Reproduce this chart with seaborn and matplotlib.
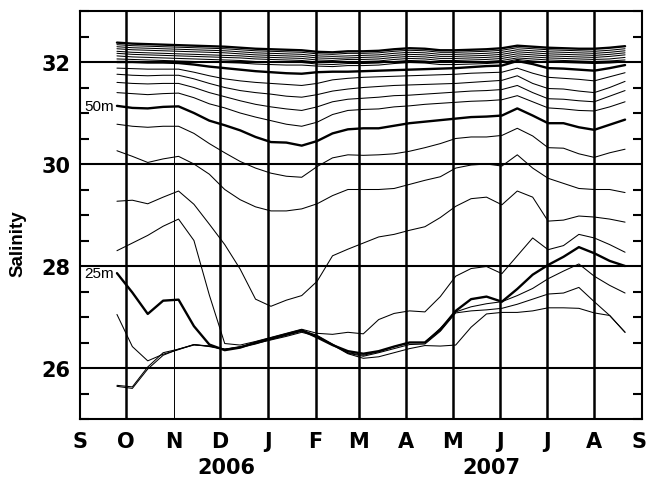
import pandas as pd
import matplotlib
matplotlib.use("Agg")
import matplotlib.pyplot as plt
from matplotlib.ticker import MultipleLocator, FixedLocator, NullLocator
import matplotlib.transforms as mtransforms
import matplotlib.dates as mdates
import seaborn as sns

# Sampling dates of the mooring record (every 10 days)
dates = pd.date_range("2006-09-25", periods=34, freq="10D")

# Salinity at each instrument depth
sal_10m = [25.64, 25.60, 25.98, 26.25, 26.37, 26.45, 26.43, 26.37, 26.42, 26.48, 26.55, 26.62,
           26.70, 26.62, 26.45, 26.28, 26.19, 26.22, 26.30, 26.38, 26.44, 26.43, 26.45, 26.80,
           27.06, 27.09, 27.09, 27.12, 27.18, 27.18, 27.17, 27.08, 27.03, 26.70]
sal_15m = [25.66, 25.63, 26.02, 26.30, 26.37, 26.46, 26.42, 26.36, 26.40, 26.47, 26.56, 26.64,
           26.72, 26.63, 26.46, 26.29, 26.23, 26.30, 26.38, 26.46, 26.47, 26.72, 27.08, 27.12,
           27.14, 27.17, 27.25, 27.35, 27.45, 27.47, 27.58, 27.30, 27.03, 26.70]
sal_20m = [27.05, 26.42, 26.14, 26.27, 26.36, 26.46, 26.43, 26.37, 26.41, 26.50, 26.58, 26.66,
           26.74, 26.64, 26.47, 26.30, 26.25, 26.32, 26.42, 26.50, 26.50, 26.78, 27.10, 27.20,
           27.26, 27.30, 27.42, 27.56, 27.75, 27.90, 28.04, 27.80, 27.62, 27.47]
sal_25m = [27.86, 27.48, 27.06, 27.32, 27.34, 26.82, 26.46, 26.35, 26.40, 26.50, 26.58, 26.66,
           26.74, 26.60, 26.45, 26.33, 26.28, 26.33, 26.42, 26.50, 26.50, 26.75, 27.12, 27.35,
           27.40, 27.30, 27.55, 27.83, 28.02, 28.18, 28.37, 28.25, 28.10, 28.00]
sal_30m = [28.30, 28.45, 28.60, 28.78, 28.92, 28.50, 27.43, 26.48, 26.45, 26.52, 26.60, 26.68,
           26.76, 26.68, 26.66, 26.70, 26.67, 26.95, 27.07, 27.12, 27.10, 27.40, 27.80, 27.95,
           27.99, 27.85, 28.20, 28.55, 28.32, 28.40, 28.62, 28.55, 28.42, 28.27]
sal_35m = [29.27, 29.29, 29.22, 29.35, 29.47, 29.21, 28.82, 28.42, 27.94, 27.35, 27.21, 27.33,
           27.42, 27.70, 28.20, 28.33, 28.45, 28.57, 28.62, 28.70, 28.77, 28.95, 29.17, 29.32,
           29.35, 29.20, 29.47, 29.35, 28.88, 28.90, 28.98, 28.96, 28.92, 28.86]
sal_40m = [30.26, 30.15, 30.03, 30.10, 30.15, 30.00, 29.80, 29.50, 29.30, 29.16, 29.08, 29.08,
           29.12, 29.22, 29.38, 29.50, 29.50, 29.50, 29.52, 29.60, 29.68, 29.75, 29.92, 29.98,
           30.00, 29.96, 30.18, 29.92, 29.72, 29.62, 29.52, 29.50, 29.50, 29.44]
sal_45m = [30.78, 30.74, 30.72, 30.74, 30.74, 30.60, 30.40, 30.22, 30.05, 29.92, 29.82, 29.76,
           29.74, 29.95, 30.12, 30.18, 30.17, 30.18, 30.20, 30.25, 30.32, 30.40, 30.50, 30.53,
           30.53, 30.56, 30.70, 30.55, 30.32, 30.31, 30.20, 30.13, 30.22, 30.29]
sal_50m = [31.14, 31.10, 31.09, 31.12, 31.13, 31.00, 30.85, 30.76, 30.66, 30.53, 30.43, 30.42,
           30.36, 30.45, 30.60, 30.68, 30.70, 30.70, 30.75, 30.80, 30.83, 30.86, 30.89, 30.92,
           30.93, 30.95, 31.09, 30.95, 30.80, 30.80, 30.72, 30.67, 30.77, 30.87]
sal_55m = [31.40, 31.38, 31.36, 31.38, 31.39, 31.30, 31.18, 31.10, 31.00, 30.92, 30.85, 30.78,
           30.74, 30.82, 30.97, 31.05, 31.07, 31.08, 31.12, 31.14, 31.17, 31.19, 31.21, 31.23,
           31.24, 31.26, 31.34, 31.22, 31.10, 31.08, 31.05, 31.04, 31.12, 31.22]
sal_60m = [31.60, 31.58, 31.57, 31.58, 31.58, 31.50, 31.40, 31.32, 31.24, 31.17, 31.12, 31.08,
           31.05, 31.12, 31.22, 31.27, 31.29, 31.31, 31.34, 31.35, 31.37, 31.39, 31.41, 31.43,
           31.44, 31.46, 31.54, 31.40, 31.28, 31.27, 31.24, 31.22, 31.33, 31.44]
sal_65m = [31.76, 31.74, 31.73, 31.74, 31.74, 31.67, 31.58, 31.50, 31.44, 31.40, 31.37, 31.33,
           31.31, 31.36, 31.43, 31.47, 31.50, 31.52, 31.54, 31.55, 31.56, 31.57, 31.58, 31.60,
           31.62, 31.64, 31.73, 31.58, 31.48, 31.47, 31.43, 31.40, 31.50, 31.62]
sal_70m = [31.88, 31.87, 31.86, 31.86, 31.86, 31.80, 31.73, 31.67, 31.63, 31.60, 31.58, 31.56,
           31.54, 31.58, 31.65, 31.68, 31.70, 31.71, 31.72, 31.73, 31.74, 31.75, 31.76, 31.78,
           31.79, 31.80, 31.88, 31.78, 31.70, 31.68, 31.66, 31.63, 31.71, 31.79]
sal_75m = [32.00, 32.00, 31.99, 31.99, 31.98, 31.95, 31.91, 31.88, 31.85, 31.82, 31.80, 31.78,
           31.77, 31.80, 31.81, 31.81, 31.82, 31.83, 31.84, 31.85, 31.86, 31.87, 31.88, 31.90,
           31.92, 31.93, 32.02, 31.96, 31.88, 31.87, 31.85, 31.83, 31.88, 31.94]
sal_80m = [32.06, 32.05, 32.04, 32.03, 32.02, 32.01, 32.00, 31.99, 31.98, 31.96, 31.95, 31.94,
           31.94, 31.92, 31.91, 31.93, 31.93, 31.94, 31.97, 31.99, 31.98, 31.95, 31.95, 31.96,
           31.97, 31.99, 32.05, 32.02, 32.00, 31.99, 31.98, 31.97, 31.98, 32.00]
sal_85m = [32.12, 32.10, 32.09, 32.08, 32.07, 32.06, 32.05, 32.04, 32.03, 32.01, 32.00, 31.99,
           31.99, 31.96, 31.95, 31.97, 31.97, 31.98, 32.01, 32.03, 32.02, 31.99, 31.99, 32.00,
           32.01, 32.03, 32.08, 32.06, 32.04, 32.03, 32.02, 32.01, 32.02, 32.04]
sal_90m = [32.17, 32.15, 32.14, 32.13, 32.12, 32.11, 32.10, 32.09, 32.08, 32.06, 32.05, 32.04,
           32.03, 32.00, 31.99, 32.01, 32.01, 32.02, 32.05, 32.07, 32.06, 32.03, 32.03, 32.04,
           32.05, 32.07, 32.12, 32.10, 32.08, 32.07, 32.06, 32.05, 32.06, 32.09]
sal_95m = [32.21, 32.19, 32.18, 32.17, 32.16, 32.15, 32.14, 32.13, 32.12, 32.10, 32.09, 32.08,
           32.07, 32.04, 32.03, 32.05, 32.05, 32.06, 32.09, 32.11, 32.10, 32.07, 32.07, 32.08,
           32.09, 32.11, 32.16, 32.14, 32.12, 32.11, 32.10, 32.09, 32.11, 32.14]
sal_100m = [32.26, 32.24, 32.23, 32.22, 32.21, 32.20, 32.19, 32.18, 32.16, 32.14, 32.13, 32.12,
            32.11, 32.08, 32.07, 32.08, 32.09, 32.10, 32.13, 32.15, 32.14, 32.11, 32.11, 32.12,
            32.13, 32.15, 32.20, 32.18, 32.16, 32.15, 32.14, 32.13, 32.15, 32.18]
sal_105m = [32.30, 32.28, 32.27, 32.26, 32.25, 32.24, 32.23, 32.22, 32.20, 32.18, 32.17, 32.16,
            32.15, 32.12, 32.11, 32.12, 32.13, 32.14, 32.17, 32.19, 32.18, 32.15, 32.15, 32.16,
            32.17, 32.19, 32.24, 32.22, 32.20, 32.19, 32.18, 32.17, 32.19, 32.22]
sal_110m = [32.34, 32.32, 32.31, 32.30, 32.29, 32.28, 32.27, 32.26, 32.24, 32.22, 32.21, 32.20,
            32.19, 32.16, 32.15, 32.17, 32.17, 32.18, 32.21, 32.23, 32.22, 32.19, 32.19, 32.20,
            32.21, 32.23, 32.28, 32.26, 32.24, 32.23, 32.22, 32.21, 32.23, 32.26]
sal_115m = [32.38, 32.36, 32.35, 32.34, 32.33, 32.32, 32.31, 32.30, 32.28, 32.26, 32.25, 32.24,
            32.23, 32.20, 32.19, 32.21, 32.21, 32.22, 32.25, 32.27, 32.26, 32.23, 32.23, 32.24,
            32.25, 32.27, 32.32, 32.30, 32.28, 32.27, 32.26, 32.26, 32.28, 32.31]

profiles = {
    10: sal_10m, 15: sal_15m, 20: sal_20m, 25: sal_25m, 30: sal_30m, 35: sal_35m,
    40: sal_40m, 45: sal_45m, 50: sal_50m, 55: sal_55m, 60: sal_60m, 65: sal_65m,
    70: sal_70m, 75: sal_75m, 80: sal_80m, 85: sal_85m, 90: sal_90m, 95: sal_95m,
    100: sal_100m, 105: sal_105m, 110: sal_110m, 115: sal_115m,
}
bold_depths = [25, 50, 75, 115]
depth_labels = {25: "25m", 50: "50m"}

month_starts = pd.date_range("2006-09-01", "2007-09-01", freq="MS")
month_letters = ["S", "O", "N", "D", "J", "F", "M", "A", "M", "J", "J", "A", "S"]
year_text = ["2006", "2007"]
year_pos = [pd.Timestamp("2006-12-05"), pd.Timestamp("2007-05-26")]
grid_levels = [26, 28, 30, 32]

sns.set_style("white")
plt.rcParams["font.family"] = ["DejaVu Sans"]
plt.rcParams["text.color"] = "black"
plt.rcParams["xtick.color"] = "black"
plt.rcParams["ytick.color"] = "black"
plt.rcParams["axes.labelcolor"] = "black"

W, H = 647, 481
fig = plt.figure(figsize=(W / 100, H / 100), dpi=100)
ax = fig.add_axes([80 / W, 1 - 420 / H, 562 / W, 408 / H])

# horizontal reference levels and monthly dividers
for lev in grid_levels:
    ax.axhline(lev, color="black", lw=1.5, zorder=1)
for m in month_starts[1:-1]:
    ax.axvline(m, color="black", lw=0.7 if m.month == 11 else 1.8, zorder=1)

for depth, vals in profiles.items():
    sns.lineplot(x=dates, y=vals, color="black",
                 lw=1.7 if depth in bold_depths else 0.75, ax=ax, zorder=3)
    if depth in depth_labels:
        ax.annotate(depth_labels[depth], xy=(dates[0], vals[0]), xytext=(-2.5, 0),
                    textcoords="offset points", ha="right", va="center",
                    fontsize=11, family="Liberation Sans", color="black")

ax.set_xlim(month_starts[0], month_starts[-1])
ax.set_ylim(25, 33)
ax.set_xlabel("")
ax.set_ylabel("")

ax.xaxis.set_major_locator(FixedLocator([mdates.date2num(m) for m in month_starts]))
ax.set_xticklabels(month_letters, fontsize=15, fontweight="bold", color="black")
ax.xaxis.set_minor_locator(NullLocator())
ax.tick_params(axis="x", which="major", length=0, pad=9)
# keep the closing "S" inside the canvas
last = ax.get_xticklabels()[-1]
last.set_transform(last.get_transform()
                   + mtransforms.ScaledTranslation(-2.5 / 72, 0, fig.dpi_scale_trans))

ax.yaxis.set_major_locator(FixedLocator(grid_levels))
ax.set_yticklabels([str(v) for v in grid_levels], fontsize=15, fontweight="bold",
                   color="black")
ax.yaxis.set_minor_locator(MultipleLocator(0.5))
ax.tick_params(axis="y", which="major", length=0, pad=7)
ax.tick_params(axis="y", which="minor", direction="in", length=6.5, width=1.5,
               left=True, right=True, color="black")

for sp in ax.spines.values():
    sp.set_visible(True)
    sp.set_color("black")
    sp.set_linewidth(1.5)

trans = mtransforms.blended_transform_factory(ax.transData, ax.transAxes)
for txt, pos in zip(year_text, year_pos):
    ax.text(pos, -0.117, txt, transform=trans, ha="center", va="center",
            fontsize=15, fontweight="bold", color="black")

fig.text(18 / W, 1 - 244 / H, "Salinity", rotation=90, ha="center", va="center",
         fontsize=13.5, fontweight="bold", family="Liberation Sans", color="black")

fig.savefig("out.png", dpi=100)
